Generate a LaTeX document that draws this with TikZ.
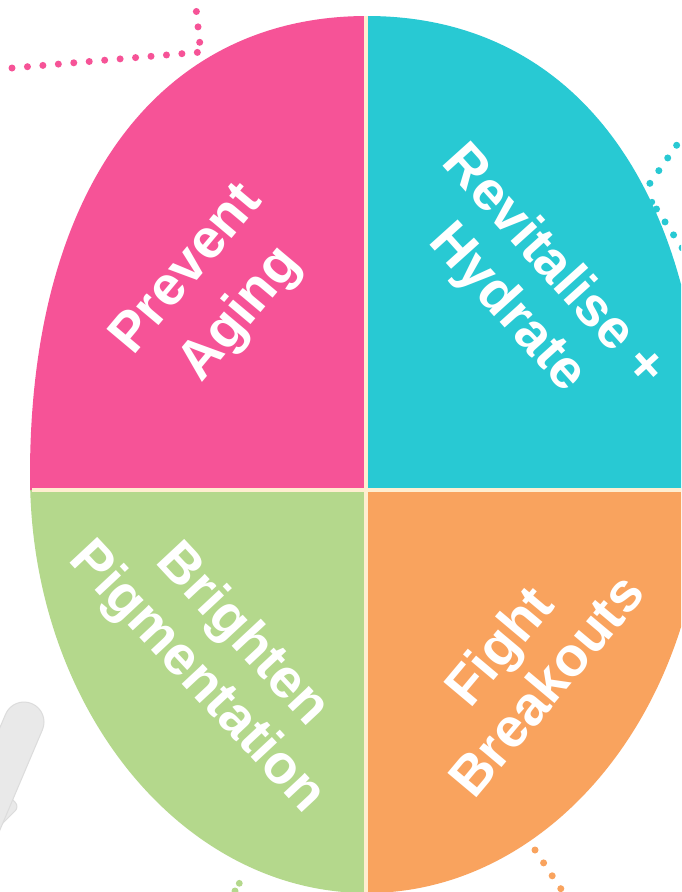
\documentclass[tikz,border=0pt]{standalone}
\usepackage{fontspec}
\setmainfont{Liberation Sans}
\definecolor{qpink}{RGB}{246,83,151}
\definecolor{qcyan}{RGB}{40,201,211}
\definecolor{qgreen}{RGB}{180,216,140}
\definecolor{qorange}{RGB}{249,163,94}
\definecolor{qcream}{RGB}{255,238,208}
\definecolor{qgrey}{RGB}{233,233,233}
\definecolor{qgreyedge}{RGB}{220,220,220}
\newcommand\quadfont{\fontsize{55}{62}\selectfont\bfseries}
\def\eggoutline{(30,475) .. controls (30,190.4) and (158.1,16) .. (367,16)
  .. controls (575.9,16) and (704,190.4) .. (704,475)
  .. controls (704,705.9) and (553.1,893) .. (367,893)
  .. controls (180.9,893) and (30,705.9) .. (30,475) -- cycle}
\begin{document}
\begin{tikzpicture}[x=1pt,y=-1pt,
  quadlabel/.style={text=white,font=\quadfont,align=center,inner sep=0pt},
  divider/.style={draw=qcream,line width=3.5pt},
  dotline/.style={line width=7pt,line cap=round,dash pattern=on 0pt off 15.5pt},
  plaster/.style={fill=qgrey,draw=qgreyedge,line width=1pt,rounded corners=#1},
]
\useasboundingbox (0,0) rectangle (681,892);
\fill[white] (0,0) rectangle (681,892);
\clip (0,0) rectangle (681,892);

% dotted trails around the egg
\draw[dotline,qpink] (12,68) -- (202,52);
\draw[dotline,qpink] (199.7,42.3) -- (193,-20);
\draw[dotline,qcyan] (641,196) -- (700,112);
\fill[qcyan] (652,202) circle (3.2);
\draw[dotline,qcyan] (656.5,209) -- (700,275);
\draw[dotline,qorange] (535,850) -- (575,910);
\fill[qgreen] (239.3,883.3) circle (3.4);
\draw[dotline,qgreen] (235,891) -- (225,910);

% crossed plaster at the lower left
\begin{scope}[shift={(6,820)},rotate=-45]
  \fill[plaster=6] (-160,-19) rectangle (0,19);
\end{scope}
\begin{scope}[shift={(24,722)},rotate=-113]
  \fill[plaster=20] (-20,-20) rectangle (160,20);
\end{scope}

% the four quadrants
\begin{scope}
  \clip \eggoutline;
  \fill[qpink]   (0,0) rectangle (366,490);
  \fill[qcyan]   (366,0) rectangle (720,490);
  \fill[qgreen]  (0,490) rectangle (366,900);
  \fill[qorange] (366,490) rectangle (720,900);
  \draw[divider] (366,0) -- (366,900);
  \draw[divider] (32,490) -- (720,490);
\end{scope}

\node[quadlabel,rotate=50,font=\fontsize{55}{70}\selectfont\bfseries]
  (aging) at (215,293) {Prevent\\Aging};
\node[quadlabel,rotate=-48] (hydra)  at (530,288) {Revitalise +\\Hydrate};
\node[quadlabel,rotate=-47] (bright) at (219,657) {Brighten\\Pigmentation};
\node[quadlabel,rotate=50]  (fight)  at (522,665) {Fight\\Breakouts};
\end{tikzpicture}
\end{document}
